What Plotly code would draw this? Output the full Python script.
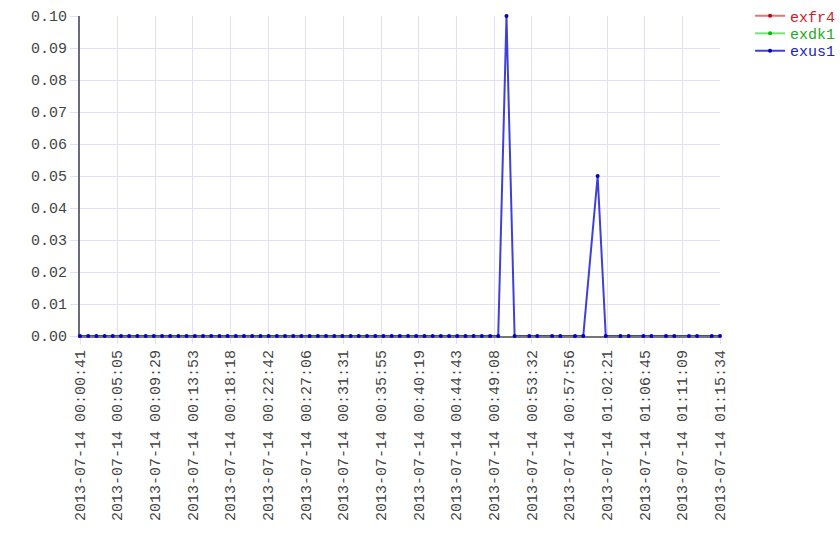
import plotly.graph_objects as go

times = [
    "2013-07-14 00:00:41", "2013-07-14 00:01:39", "2013-07-14 00:02:36", "2013-07-14 00:03:34",
    "2013-07-14 00:04:31", "2013-07-14 00:05:29", "2013-07-14 00:06:26", "2013-07-14 00:07:24",
    "2013-07-14 00:08:22", "2013-07-14 00:09:19", "2013-07-14 00:10:17", "2013-07-14 00:11:14",
    "2013-07-14 00:12:12", "2013-07-14 00:13:09", "2013-07-14 00:14:07", "2013-07-14 00:15:05",
    "2013-07-14 00:16:02", "2013-07-14 00:17:00", "2013-07-14 00:17:57", "2013-07-14 00:18:55",
    "2013-07-14 00:19:52", "2013-07-14 00:20:50", "2013-07-14 00:21:48", "2013-07-14 00:22:45",
    "2013-07-14 00:23:43", "2013-07-14 00:24:40", "2013-07-14 00:25:38", "2013-07-14 00:26:35",
    "2013-07-14 00:27:33", "2013-07-14 00:28:31", "2013-07-14 00:29:28", "2013-07-14 00:30:26",
    "2013-07-14 00:31:23", "2013-07-14 00:32:21", "2013-07-14 00:33:18", "2013-07-14 00:34:16",
    "2013-07-14 00:35:14", "2013-07-14 00:36:11", "2013-07-14 00:37:09", "2013-07-14 00:38:06",
    "2013-07-14 00:39:04", "2013-07-14 00:40:01", "2013-07-14 00:40:59", "2013-07-14 00:41:57",
    "2013-07-14 00:42:54", "2013-07-14 00:43:52", "2013-07-14 00:44:49", "2013-07-14 00:45:47",
    "2013-07-14 00:46:44", "2013-07-14 00:47:42", "2013-07-14 00:48:40", "2013-07-14 00:49:37",
    "2013-07-14 00:50:35", "2013-07-14 00:51:32", "2013-07-14 00:53:15", "2013-07-14 00:54:11",
    "2013-07-14 00:55:55", "2013-07-14 00:56:53", "2013-07-14 00:58:36", "2013-07-14 00:59:34",
    "2013-07-14 01:01:15", "2013-07-14 01:02:12", "2013-07-14 01:03:55", "2013-07-14 01:04:53",
    "2013-07-14 01:06:36", "2013-07-14 01:07:32", "2013-07-14 01:09:15", "2013-07-14 01:10:13",
    "2013-07-14 01:11:56", "2013-07-14 01:12:53", "2013-07-14 01:14:36", "2013-07-14 01:15:34",
]

exus1 = [
    0, 0, 0, 0, 0, 0, 0, 0, 0, 0, 0, 0, 0, 0, 0, 0,
    0, 0, 0, 0, 0, 0, 0, 0, 0, 0, 0, 0, 0, 0, 0, 0,
    0, 0, 0, 0, 0, 0, 0, 0, 0, 0, 0, 0, 0, 0, 0, 0,
    0, 0, 0, 0, 0.10, 0, 0, 0, 0, 0, 0, 0,
    0.05, 0, 0, 0, 0, 0, 0, 0, 0, 0, 0, 0,
]

# series with no visible values in the chart (legend entries only)
exfr4_times = ["2013-07-14 00:00:41"]
exfr4 = [None]
exdk1_times = ["2013-07-14 00:00:41"]
exdk1 = [None]

tick_labels = [
    "2013-07-14 00:00:41", "2013-07-14 00:05:05", "2013-07-14 00:09:29", "2013-07-14 00:13:53",
    "2013-07-14 00:18:18", "2013-07-14 00:22:42", "2013-07-14 00:27:06", "2013-07-14 00:31:31",
    "2013-07-14 00:35:55", "2013-07-14 00:40:19", "2013-07-14 00:44:43", "2013-07-14 00:49:08",
    "2013-07-14 00:53:32", "2013-07-14 00:57:56", "2013-07-14 01:02:21", "2013-07-14 01:06:45",
    "2013-07-14 01:11:09", "2013-07-14 01:15:34",
]

FONT = "Liberation Mono"

fig = go.Figure()
fig.add_trace(go.Scatter(
    x=exfr4_times, y=exfr4, name="exfr4", mode="lines+markers", legend="legend",
    line=dict(color="rgba(214,40,40,0.65)", width=2),
    marker=dict(color="#cc0000", size=4),
))
fig.add_trace(go.Scatter(
    x=exdk1_times, y=exdk1, name="exdk1", mode="lines+markers", legend="legend2",
    line=dict(color="rgba(40,214,40,0.65)", width=2),
    marker=dict(color="#00bb00", size=4),
))
fig.add_trace(go.Scatter(
    x=times, y=exus1, name="exus1", mode="lines+markers", legend="legend3",
    line=dict(color="rgba(0,0,204,0.75)", width=2),
    marker=dict(color="#0000cc", size=4),
    cliponaxis=False,
))

def leg(y, color):
    return dict(
        x=1.047, y=y, xanchor="left", yanchor="middle",
        bgcolor="rgba(0,0,0,0)", borderwidth=0,
        font=dict(family=FONT, size=15, color=color),
        itemwidth=30,
    )

fig.update_layout(
    width=840, height=560,
    margin=dict(l=80, r=120, t=16, b=224, autoexpand=False),
    paper_bgcolor="white", plot_bgcolor="white",
    font=dict(family=FONT, size=15, color="#333333"),
    showlegend=True,
    legend=leg(1.0, "#cc2222"),
    legend2=leg(0.945, "#22aa22"),
    legend3=leg(0.891, "#2222bb"),
)

fig.update_xaxes(
    type="date", automargin=False,
    range=[tick_labels[0], tick_labels[-1]],
    tickmode="array", tickvals=tick_labels, ticktext=tick_labels,
    tickangle=-90,
    tickfont=dict(family=FONT, size=15, color="#444444"),
    showgrid=True, gridcolor="#e0e0fa", gridwidth=1,
    ticks="outside", ticklen=6, tickcolor="#e0e0fa",
    showline=True, linecolor="#777777", linewidth=2,
    layer="below traces", zeroline=False,
)
fig.update_yaxes(
    range=[0, 0.1], dtick=0.01, tick0=0, tickformat=".2f", automargin=False,
    tickfont=dict(family=FONT, size=15, color="#444444"),
    showgrid=True, gridcolor="#e0e0fa", gridwidth=1,
    ticks="outside", ticklen=8, tickcolor="#e0e0fa",
    showline=True, linecolor="#6a6a78", linewidth=2,
    layer="below traces", zeroline=False,
)

fig.write_html("out.html", config={"displayModeBar": False},
               post_script="document.body.style.margin='0';")
